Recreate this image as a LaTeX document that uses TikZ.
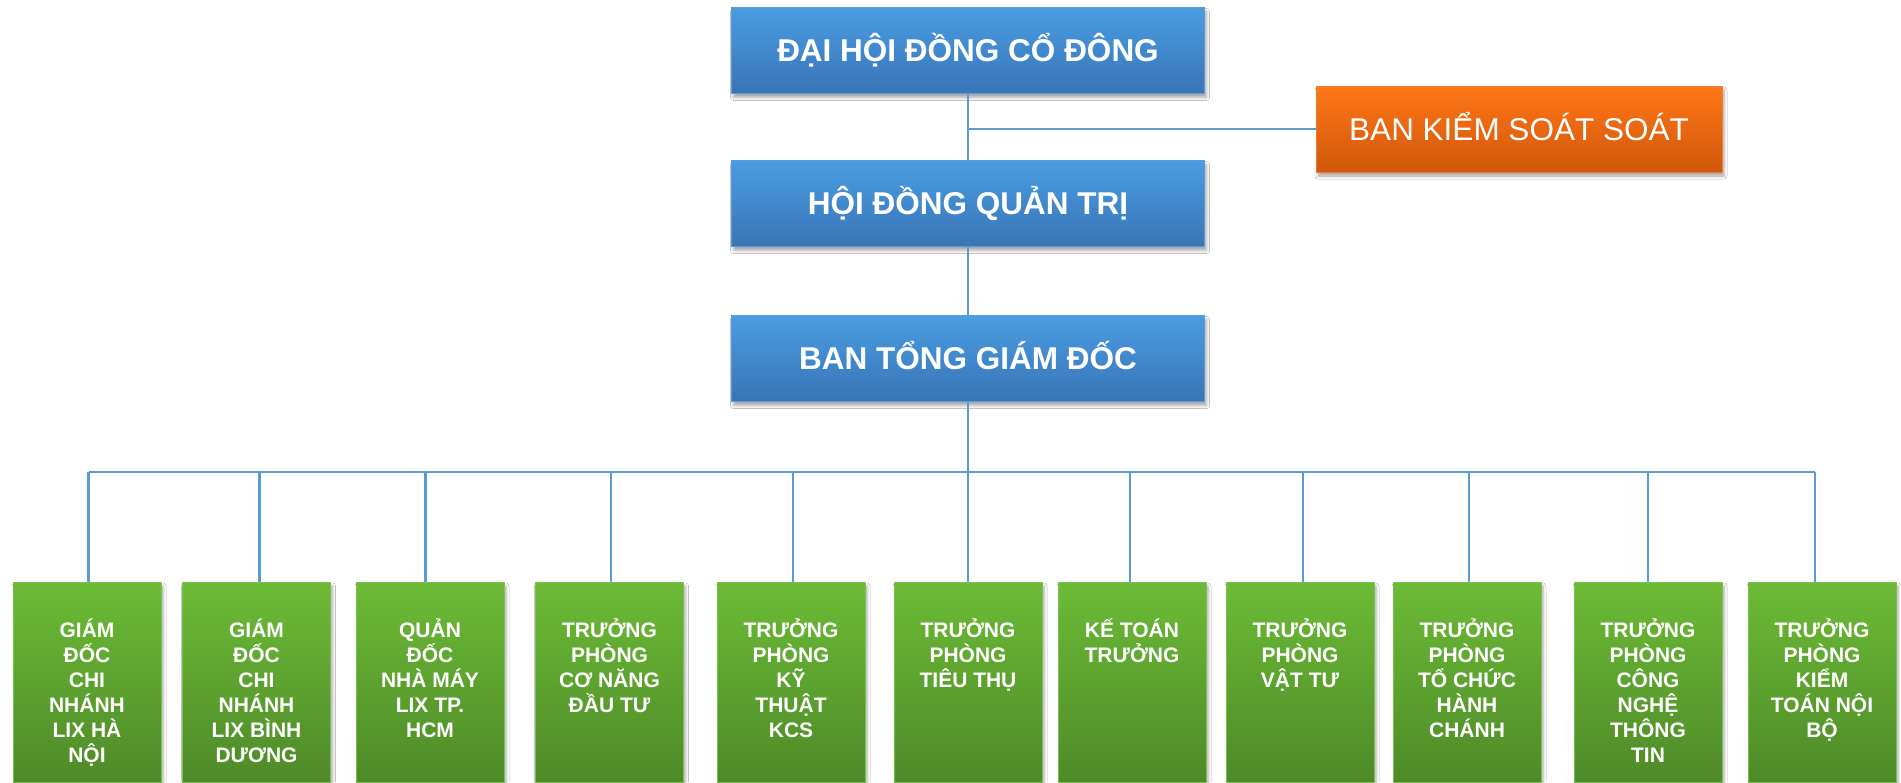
\documentclass[tikz,border=0pt]{standalone}
\usepackage{fontspec}
\setmainfont{Liberation Sans}
\usetikzlibrary{shadows,shadows.blur}

\definecolor{blueTop}{RGB}{74,157,226}
\definecolor{blueBot}{RGB}{56,116,182}
\definecolor{blueEdge}{RGB}{92,156,216}
\definecolor{grnTop}{RGB}{108,187,54}
\definecolor{grnBot}{RGB}{78,138,40}
\definecolor{grnEdge}{RGB}{122,192,82}
\definecolor{orgTop}{RGB}{255,118,22}
\definecolor{orgBot}{RGB}{208,88,12}
\definecolor{orgEdge}{RGB}{238,124,52}
\definecolor{linkBlue}{RGB}{91,155,213}

% text block of a department box: fixed size, lines hung from the top
\newcommand{\stafftext}[1]{\parbox[c][200pt][t]{148pt}{\centering
  \fontsize{21pt}{25pt}\selectfont\bfseries\rule{0pt}{55pt}#1\par}}

\tikzset{
  box/.style={draw, line width=0.8pt, inner sep=0pt,
    blur shadow={shadow xshift=2pt, shadow yshift=-4pt,
      shadow blur radius=3pt, shadow opacity=35}},
  topbox/.style={box, draw=blueEdge, top color=blueTop, bottom color=blueBot,
    minimum width=473pt, minimum height=86pt, text=white,
    font=\fontsize{31.5pt}{36pt}\selectfont\bfseries,
    text height=22.5pt, text depth=0pt},
  ctlbox/.style={box, draw=orgEdge, top color=orgTop, bottom color=orgBot,
    minimum width=406pt, minimum height=86pt, text=white,
    font=\fontsize{31.5pt}{36pt}\selectfont,
    text height=22.5pt, text depth=0pt},
  staffbox/.style={box, draw=grnEdge, top color=grnTop, bottom color=grnBot,
    text=white},
  link/.style={draw=linkBlue, line width=2.2pt}
}

\begin{document}
\begin{tikzpicture}[x=1pt, y=-1pt]
\clip (0,0) rectangle (1901,782);
\fill[white] (0,0) rectangle (1901,782);

% governing bodies
\node[topbox] (agm)   at (968,50.5)  {ĐẠI HỘI ĐỒNG CỔ ĐÔNG};
\node[topbox] (board) at (968,203.5) {HỘI ĐỒNG QUẢN TRỊ};
\node[topbox] (ceo)   at (968,358.5) {BAN TỔNG GIÁM ĐỐC};
\node[ctlbox] (audit) at (1519,129)  {BAN KIỂM SOÁT SOÁT};

% departments
\node[staffbox] (d1)  at (87,682)    {\stafftext{GIÁM\\ĐỐC\\CHI\\NHÁNH\\LIX HÀ\\NỘI}};
\node[staffbox] (d2)  at (256.5,682) {\stafftext{GIÁM\\ĐỐC\\CHI\\NHÁNH\\LIX BÌNH\\DƯƠNG}};
\node[staffbox] (d3)  at (430,682)   {\stafftext{QUẢN\\ĐỐC\\NHÀ MÁY\\LIX TP.\\HCM}};
\node[staffbox] (d4)  at (609.5,682) {\stafftext{TRƯỞNG\\PHÒNG\\CƠ NĂNG\\ĐẦU TƯ}};
\node[staffbox] (d5)  at (791,682)   {\stafftext{TRƯỞNG\\PHÒNG\\KỸ\\THUẬT\\KCS}};
\node[staffbox] (d6)  at (968,682)   {\stafftext{TRƯỞNG\\PHÒNG\\TIÊU THỤ}};
\node[staffbox] (d7)  at (1132,682)  {\stafftext{KẾ TOÁN\\TRƯỞNG}};
\node[staffbox] (d8)  at (1300,682)  {\stafftext{TRƯỞNG\\PHÒNG\\VẬT TƯ}};
\node[staffbox] (d9)  at (1467,682)  {\stafftext{TRƯỞNG\\PHÒNG\\TỔ CHỨC\\HÀNH\\CHÁNH}};
\node[staffbox] (d10) at (1648,682)  {\stafftext{TRƯỞNG\\PHÒNG\\CÔNG\\NGHỆ\\THÔNG\\TIN}};
\node[staffbox] (d11) at (1822,682)  {\stafftext{TRƯỞNG\\PHÒNG\\KIỂM\\TOÁN NỘI\\BỘ}};

% reporting lines
\coordinate (bus) at (968,472);
\draw[link] (agm.south) -- (board.north);
\draw[link] (agm.south |- audit.west) -- (audit.west);
\draw[link] (board.south) -- (ceo.north);
\draw[link] (ceo.south) -- (bus);
\draw[link] ([xshift=1.5pt]d1.north |- bus) -- ([xshift=-7pt]d11.north |- bus);
% drop lines, each a little off its box centre
\foreach \d/\dx in {d1/1.5,d2/3,d3/-4.5,d4/1.5,d5/2,d6/0,d7/-2,d8/3,d9/2,d10/0,d11/-7}
  \draw[link] ([xshift=\dx pt]\d.north |- bus) -- ([xshift=\dx pt]\d.north);
\end{tikzpicture}
\end{document}
